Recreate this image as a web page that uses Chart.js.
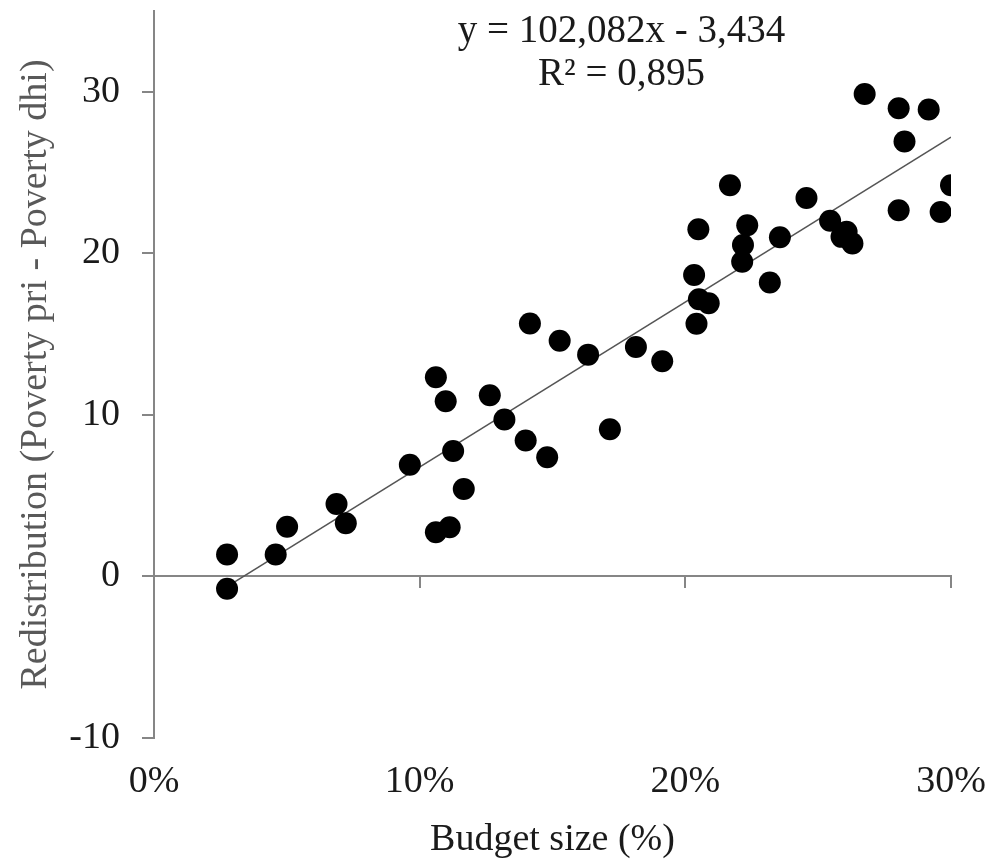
<!DOCTYPE html>
<html><head><meta charset="utf-8">
<script src="https://cdn.jsdelivr.net/npm/chart.js@4/dist/chart.umd.min.js"></script>
<style>html,body{margin:0;padding:0;background:#fff}canvas{display:block}</style>
</head><body>
<canvas id="c" width="992" height="863"></canvas>
<script>
// Budget size (%) per observation
const budgetSize = [2.75, 2.75, 4.58, 5.01, 6.87, 7.22, 9.63, 10.61, 11.13, 10.61, 10.98, 11.26, 11.66, 12.64, 13.19, 13.99, 14.15, 14.80, 15.27, 16.34, 17.16, 18.14, 19.13, 20.33, 20.51, 20.88, 20.42, 20.49, 21.68, 22.17, 22.14, 22.33, 23.18, 23.56, 24.56, 25.45, 26.07, 25.88, 26.29, 26.75, 28.03, 29.16, 28.25, 28.03, 29.61, 30.00];
// Redistribution (Poverty pri - Poverty dhi)
const redistribution = [1.36, -0.76, 1.36, 3.08, 4.48, 3.29, 6.91, 2.73, 3.04, 12.33, 10.85, 7.77, 5.41, 11.22, 9.72, 8.42, 15.66, 7.38, 14.59, 13.73, 9.11, 14.20, 13.32, 18.66, 17.16, 16.91, 15.64, 21.49, 24.21, 20.51, 19.48, 21.74, 18.19, 20.99, 23.43, 22.02, 21.33, 21.02, 20.61, 29.86, 28.98, 28.90, 26.92, 22.67, 22.56, 24.21];
// Linear trendline (x as fraction)
const trendSlope = 102.082;
const trendIntercept = -3.434;
const equationLines = ['y = 102,082x - 3,434', 'R² = 0,895'];
const xTicks = [0, 10, 20, 30];
const yTicks = [-10, 0, 10, 20, 30];
const xTitle = 'Budget size (%)';
const yTitle = 'Redistribution (Poverty pri - Poverty dhi)';

const FONT = "'Liberation Serif', 'Times New Roman', serif";
const AXIS = '#868686';

const points = budgetSize.map((x, i) => ({x: x, y: redistribution[i]}));
const xMin = Math.min(...budgetSize), xMax = Math.max(...budgetSize);
const trend = [xMin, xMax].map(x => ({x: x, y: trendSlope * x / 100 + trendIntercept}));

const equationPlugin = {
  id: 'equation',
  afterDraw(chart) {
    const {ctx, scales} = chart;
    ctx.save();
    ctx.font = '39px ' + FONT;
    ctx.fillStyle = '#1a1a1a';
    ctx.textAlign = 'center';
    ctx.textBaseline = 'alphabetic';
    const cx = scales.x.getPixelForValue(17.6);
    ctx.fillText(equationLines[0], cx, scales.y.getPixelForValue(33.1));
    ctx.fillText(equationLines[1], cx, scales.y.getPixelForValue(30.45));
    ctx.restore();
  }
};

Chart.defaults.font.family = FONT;
Chart.defaults.font.size = 38;
Chart.defaults.color = '#1a1a1a';

const noPad = s => { s.paddingTop = 0; s.paddingBottom = 0; s.paddingLeft = 0; s.paddingRight = 0; };

new Chart(document.getElementById('c'), {
  type: 'scatter',
  data: {
    datasets: [
      {data: points, backgroundColor: '#000', borderWidth: 0, pointRadius: 11, pointHoverRadius: 11, order: 0},
      {type: 'line', data: trend, borderColor: '#555555', borderWidth: 1.6, pointRadius: 0, fill: false, order: 1}
    ]
  },
  options: {
    responsive: false, animation: false, devicePixelRatio: 1,
    layout: {padding: {left: 0, right: 41, top: 8, bottom: 0}},
    plugins: {legend: {display: false}, tooltip: {enabled: false}},
    scales: {
      x: {
        type: 'linear', position: 'bottom', min: 0, max: 30,
        afterBuildTicks: s => { s.ticks = xTicks.map(v => ({value: v})); },
        ticks: {callback: v => v + '%', padding: 21, maxRotation: 0, autoSkip: false},
        grid: {display: false, drawTicks: false},
        border: {display: false},
        title: {display: true, text: xTitle, padding: {top: 0, bottom: 0}},
        afterFit: s => { s.height = 125; noPad(s); }
      },
      x2: {
        type: 'linear', axis: 'x', position: {y: 0}, min: 0, max: 30,
        afterBuildTicks: s => { s.ticks = xTicks.map(v => ({value: v})); },
        ticks: {display: false},
        grid: {drawOnChartArea: false, drawTicks: true, tickLength: 11, color: AXIS, lineWidth: 2},
        border: {color: AXIS, width: 2},
        afterFit: s => { s.height = 0; noPad(s); }
      },
      y: {
        type: 'linear', position: 'left', min: -10, max: 35,
        afterBuildTicks: s => { s.ticks = yTicks.map(v => ({value: v})); },
        ticks: {padding: 22},
        grid: {drawOnChartArea: false, drawTicks: true, tickLength: 12, color: AXIS, lineWidth: 2},
        border: {color: AXIS, width: 2},
        title: {display: true, text: yTitle, color: '#595959', padding: {top: 13, bottom: 0}},
        afterFit: s => { s.width = 154; noPad(s); }
      }
    }
  },
  plugins: [equationPlugin]
});
</script>
</body></html>
